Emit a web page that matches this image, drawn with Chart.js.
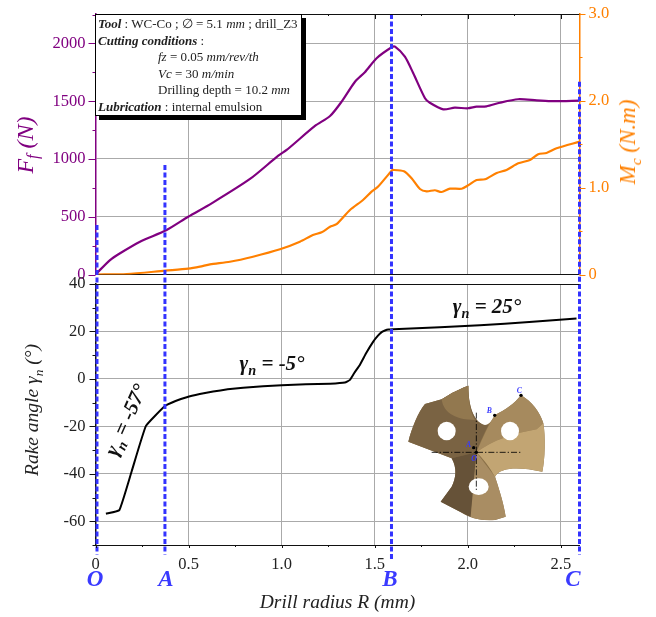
<!DOCTYPE html>
<html>
<head>
<meta charset="utf-8">
<script src="https://cdn.jsdelivr.net/npm/chart.js@4"></script>
<style>
html, body { margin: 0; padding: 0; background: #fff; }
#page { position: relative; width: 656px; height: 617px; overflow: hidden; font-family: "Liberation Serif", serif; }
canvas { position: absolute; left: 0; }
.lbl { position: absolute; white-space: nowrap; transform: translate(-50%, -50%); }
.rot { transform: translate(-50%, -50%) rotate(-90deg); }
.note { font-weight: bold; font-style: italic; font-size: 21px; color: #111; }
.note sub, .axis sub { font-size: 68%; line-height: 0; }
.pt { color: #3a3aff; font-weight: bold; font-style: italic; font-size: 23px; }
#box { position: absolute; left: 95px; top: 14px; width: 205px; height: 99px; background: #fff; border: 1px solid #000;
       box-shadow: 4px 4px 0 #000; font-size: 13px; line-height: 16.5px; color: #222; padding-top: 1px; }
#box div { padding-left: 2px; white-space: nowrap; }
#box .in { padding-left: 62px; }
#drill { position: absolute; left: 380px; top: 370px; }
</style>
</head>
<body>
<div id="page">
  <canvas id="topChart" width="656" height="310" style="top:0"></canvas>
  <canvas id="rakeChart" width="656" height="347" style="top:270px"></canvas>

  <div id="box">
    <div><b><i>Tool</i></b> : WC-Co ; &#8709; = 5.1 <i>mm</i> ; drill_Z3</div>
    <div><b><i>Cutting conditions</i></b> :</div>
    <div class="in"><i>fz</i> = 0.05 <i>mm/rev/th</i></div>
    <div class="in"><i>Vc</i> = 30 <i>m/min</i></div>
    <div class="in">Drilling depth = 10.2 <i>mm</i></div>
    <div><b><i>Lubrication</i></b> : internal emulsion</div>
  </div>

  <div class="lbl rot axis" style="left:25px;top:145px;font-size:24px;font-style:italic;color:#800080">F<sub>f</sub> (N)</div>
  <div class="lbl rot axis" style="left:628px;top:142px;font-size:23px;font-style:italic;color:#ff8000">M<sub>c</sub> (N.m)</div>
  <div class="lbl rot axis" style="left:32px;top:410px;font-size:19.5px;font-style:italic;color:#222">Rake angle &#947;<sub>n</sub> (&#176;)</div>

  <div class="lbl note" style="left:272px;top:363px">&#947;<sub>n</sub> = -5&#176;</div>
  <div class="lbl note" style="left:487px;top:306px">&#947;<sub>n</sub> = 25&#176;</div>
  <div class="lbl note" style="left:126px;top:420px;transform:translate(-50%,-50%) rotate(-66deg)">&#947;<sub>n</sub> = -57&#176;</div>

  <div class="lbl pt" style="left:95px;top:579px">O</div>
  <div class="lbl pt" style="left:166px;top:579px">A</div>
  <div class="lbl pt" style="left:390px;top:579px">B</div>
  <div class="lbl pt" style="left:573px;top:579px">C</div>

  <svg id="drill" width="200" height="170" viewBox="0 0 600 510">
    <path d="M265 47 C225 62 205 75 185 88 L135 102 C115 125 95 175 85 215 L150 240 L215 265 C232 295 228 325 215 350 L182 395 L240 425 C270 445 300 452 345 450 L377 440 C372 405 360 365 345 320 C360 290 420 290 487 305 C495 270 497 200 490 160 C480 125 455 95 423 75 C405 100 375 120 345 135 C335 155 325 165 315 165 C290 160 265 125 265 47 Z" fill="#8a7048"/>
    <path d="M265 47 C225 62 205 75 185 88 L135 102 C115 125 95 175 85 215 L150 240 L215 265 L289 247 C300 215 315 185 325 165 L315 165 C290 160 265 125 265 47 Z" fill="#7a6343"/>
    <path d="M185 88 C190 130 230 150 285 150 C270 125 265 90 265 47 C225 62 205 75 185 88 Z" fill="#92784f"/>
    <path d="M215 265 C232 295 228 325 215 350 L182 395 L240 425 C250 430 262 436 272 440 L289 300 L289 247 Z" fill="#665238"/>
    <path d="M289 247 L272 440 C295 450 320 452 345 450 L377 440 C372 405 360 365 345 320 Z" fill="#a98d63"/>
    <path d="M289 247 C310 200 325 165 345 135 C375 120 405 100 423 75 C455 95 480 125 490 160 L470 178 C400 190 340 210 289 247 Z" fill="#a68a5e"/>
    <path d="M289 247 C340 210 400 190 470 178 L490 160 C497 200 495 270 487 305 C420 290 360 290 345 320 C330 295 310 265 289 247 Z" fill="#c2a573"/>
    <ellipse cx="200" cy="183" rx="27" ry="28" fill="#fff"/>
    <ellipse cx="390" cy="183" rx="27" ry="28" fill="#fff"/>
    <ellipse cx="296" cy="350" rx="30" ry="25" fill="#fff"/>
    <g stroke="#000" stroke-width="2.5" stroke-dasharray="18 6 4 6" fill="none">
      <path d="M155 247 H422"/>
      <path d="M289 128 V360"/>
    </g>
    <g fill="#000">
      <circle cx="289" cy="247" r="5"/>
      <circle cx="281" cy="233" r="5"/>
      <circle cx="344" cy="136" r="5"/>
      <circle cx="423" cy="76" r="5"/>
    </g>
    <g fill="#3a3aff" font-family="Liberation Serif" font-style="italic" font-weight="bold" font-size="23">
      <text x="258" y="232">A</text>
      <text x="320" y="130">B</text>
      <text x="410" y="68">C</text>
      <text x="274" y="272">O</text>
    </g>
  </svg>
</div>

<script>
const forceRadius = [0, 0.078, 0.132, 0.239, 0.382, 0.498, 0.624, 0.83, 0.982, 1.027, 1.179, 1.26, 1.322, 1.394, 1.447, 1.51, 1.591, 1.609, 1.662, 1.707, 1.77, 1.796, 1.868, 1.93, 2.0, 2.047, 2.1, 2.172, 2.27, 2.37, 2.457, 2.6]
const forceValues = [0, 125, 184, 284, 385, 500, 616, 827, 1029, 1078, 1286, 1372, 1496, 1669, 1751, 1872, 1967, 1972, 1886, 1742, 1526, 1487, 1430, 1444, 1439, 1453, 1456, 1487, 1517, 1508, 1500, 1505]

const torqueRadius = [0, 0.168, 0.373, 0.498, 0.561, 0.615, 0.722, 0.846, 0.991, 1.098, 1.168, 1.215, 1.26, 1.295, 1.367, 1.437, 1.483, 1.517, 1.591, 1.598, 1.657, 1.698, 1.743, 1.779, 1.823, 1.859, 1.904, 1.967, 2.002, 2.047, 2.092, 2.155, 2.208, 2.271, 2.334, 2.378, 2.423, 2.477, 2.6]
const torqueValues = [0, 0.005, 0.044, 0.067, 0.09, 0.117, 0.147, 0.205, 0.29, 0.378, 0.455, 0.486, 0.55, 0.58, 0.743, 0.858, 0.954, 1.01, 1.196, 1.204, 1.189, 1.108, 0.985, 0.958, 0.97, 0.95, 0.988, 0.988, 1.027, 1.088, 1.096, 1.169, 1.204, 1.28, 1.319, 1.385, 1.40, 1.454, 1.53]

const rakeRadius = [0.056, 0.128, 0.194, 0.271, 0.373, 0.43, 0.49, 0.56, 0.632, 0.71, 0.793, 0.9, 1.0, 1.13, 1.26, 1.34, 1.367, 1.39, 1.42, 1.455, 1.492, 1.515, 1.537, 1.555, 1.573, 1.6, 1.85, 2.065, 2.33, 2.584]
const rakeValues = [-56.8, -55.3, -39, -19.8, -11.4, -9.3, -7.7, -6.4, -5.3, -4.4, -3.7, -3.1, -2.7, -2.3, -2.0, -1.5, -0.4, 2.5, 5.9, 11, 15.7, 18, 19.7, 20.4, 20.8, 20.9, 21.8, 22.6, 24, 25.5]

const radiusTicks = [0, 0.5, 1, 1.5, 2, 2.5]
const forceTicks = [0, 500, 1000, 1500, 2000]
const torqueTicks = [0, 1, 2, 3]
const rakeTicks = [-60, -40, -20, 0, 20, 40]

// dashed markers O, A, B, C
const markerRadius = [0.008, 0.373, 1.59, 2.6]
const markerTopForce = [428, 948, 2255, 1668]
const markerBottomRake = [-74, -74, -76, -74]

const purple = '#800080'
const orange = '#ff8000'
const blue = '#3333ff'
const gridGray = '#aaaaaa'
const serif = 'Liberation Serif'

const toPoints = (xs, ys) => xs.map((x, i) => ({ x: x, y: ys[i] }))

const curve = (data, color, axis, width, tension) => ({
    data: data,
    yAxisID: axis,
    borderColor: color,
    borderWidth: width,
    pointRadius: 0,
    tension: tension,
    order: 2
})

const markerLine = (x, from, to, axis) => ({
    data: [{ x: x, y: from }, { x: x, y: to }],
    yAxisID: axis,
    borderColor: blue,
    borderWidth: 3,
    borderDash: [5, 2.5],
    pointRadius: 0,
    clip: false,
    order: 1
})

// ticks are drawn by hand because Chart.js has no minor ticks
const tickMarks = (scale, edge, step, minorStep, color, dir, long, short) => (chart) => {
    const ctx = chart.ctx
    const s = chart.scales[scale]
    ctx.save()
    ctx.strokeStyle = color
    ctx.lineWidth = 1
    ctx.beginPath()
    const n = Math.floor((s.max - s.min) / minorStep + 1e-6)
    const first = Math.ceil(s.min / minorStep - 1e-6)
    for (let i = 0; i <= n; i++) {
        const v = (first + i) * minorStep
        if (v > s.max + 1e-6) break
        const isMajor = Math.abs(v / step - Math.round(v / step)) < 1e-6
        const len = isMajor ? long : short
        const p = Math.round(s.getPixelForValue(v)) + 0.5
        const a = chart.chartArea
        if (edge === 'left' || edge === 'right') {
            const x0 = edge === 'left' ? a.left : a.right
            ctx.moveTo(x0, p)
            ctx.lineTo(x0 + dir * len, p)
        } else {
            const y0 = edge === 'top' ? a.top : a.bottom
            ctx.moveTo(p, y0)
            ctx.lineTo(p, y0 + dir * len)
        }
    }
    ctx.stroke()
    ctx.restore()
}

const frameTop = {
    id: 'frameTop',
    afterDatasetsDraw(chart) {
        const a = chart.chartArea
        const ctx = chart.ctx
        ctx.save()
        ctx.strokeStyle = '#111'
        ctx.lineWidth = 1
        ctx.beginPath()
        ctx.moveTo(a.left, Math.round(a.top) + 0.5)
        ctx.lineTo(a.right, Math.round(a.top) + 0.5)
        ctx.stroke()
        ctx.restore()
    }
}

const fixWidth = (w) => (s) => { s.width = w; s.paddingTop = 0; s.paddingBottom = 0 }
const fixHeight = (h) => (s) => { s.height = h; s.paddingLeft = 0; s.paddingRight = 0 }
const useTicks = (values) => (s) => { s.ticks = values.map((v) => ({ value: v })) }
const plainLabel = (v) => String(v)
const oneDecimal = (v) => v === 0 ? '0' : v.toFixed(1)

new Chart(document.getElementById('topChart'), {
    type: 'line',
    data: {
        datasets: [
            curve(toPoints(forceRadius, forceValues), purple, 'yForce', 2.2, 0.25),
            curve(toPoints(torqueRadius, torqueValues), orange, 'yTorque', 2.2, 0.25)
        ].concat(markerRadius.map((x, i) => markerLine(x, markerTopForce[i], -90, 'yForce')))
    },
    options: {
        responsive: false,
        animation: false,
        devicePixelRatio: 1,
        layout: { padding: { top: 14, bottom: 35.5 } },
        plugins: { legend: { display: false }, tooltip: { enabled: false } },
        scales: {
            x: {
                type: 'linear', min: 0, max: 2.6,
                afterBuildTicks: useTicks(radiusTicks),
                afterFit: fixHeight(0),
                ticks: { display: false },
                grid: { color: gridGray, drawTicks: false },
                border: { color: '#111', width: 1 }
            },
            yForce: {
                position: 'left', min: 0, max: 2255,
                afterBuildTicks: useTicks(forceTicks),
                afterFit: fixWidth(95.5),
                ticks: { padding: 10, color: purple, font: { family: serif, size: 16.5 }, callback: plainLabel },
                grid: { color: gridGray, drawTicks: false },
                border: { color: purple, width: 1.5 }
            },
            yTorque: {
                position: 'right', min: 0, max: 3,
                afterBuildTicks: useTicks(torqueTicks),
                afterFit: fixWidth(76.5),
                ticks: { padding: 9, color: orange, font: { family: serif, size: 16.5 }, callback: oneDecimal },
                grid: { display: false, drawTicks: false },
                border: { color: orange, width: 1.5 }
            }
        }
    },
    plugins: [frameTop, {
        id: 'topTicks',
        afterDraw(chart) {
            tickMarks('yForce', 'left', 500, 250, purple, -1, 7, 3)(chart)
            tickMarks('yTorque', 'right', 1, 0.5, orange, 1, 6, 3)(chart)
            tickMarks('x', 'top', 0.5, 0.25, '#111', 1, 5, 2)(chart)
        }
    }]
})

new Chart(document.getElementById('rakeChart'), {
    type: 'line',
    data: {
        datasets: [curve(toPoints(rakeRadius, rakeValues), '#000', 'yRake', 2, 0.1)]
            .concat(markerRadius.map((x, i) => markerLine(x, 40, markerBottomRake[i], 'yRake')))
    },
    options: {
        responsive: false,
        animation: false,
        devicePixelRatio: 1,
        layout: { padding: { top: 14, right: 76.5 } },
        plugins: { legend: { display: false }, tooltip: { enabled: false } },
        scales: {
            x: {
                type: 'linear', min: 0, max: 2.6,
                afterBuildTicks: useTicks(radiusTicks),
                afterFit: fixHeight(72),
                title: {
                    display: true, text: 'Drill radius R (mm)', color: '#222',
                    font: { family: serif, size: 19.5, style: 'italic' },
                    padding: { top: 0, bottom: 2 }
                },
                ticks: { maxRotation: 0, padding: 10, color: '#222', font: { family: serif, size: 16.5 }, callback: oneDecimal },
                grid: { color: gridGray, drawTicks: false },
                border: { color: '#111', width: 1 }
            },
            yRake: {
                position: 'left', min: -70, max: 40,
                afterBuildTicks: useTicks(rakeTicks),
                afterFit: fixWidth(95.5),
                ticks: { padding: 10, color: '#222', font: { family: serif, size: 16.5 }, callback: plainLabel },
                grid: { color: gridGray, drawTicks: false },
                border: { color: '#111', width: 1.5 }
            }
        }
    },
    plugins: [frameTop, {
        id: 'rakeTicks',
        afterDraw(chart) {
            tickMarks('yRake', 'left', 20, 10, '#111', -1, 6, 3)(chart)
            tickMarks('x', 'bottom', 0.5, 0.25, '#111', 1, 3, 2)(chart)
        }
    }]
})
</script>
</body>
</html>
